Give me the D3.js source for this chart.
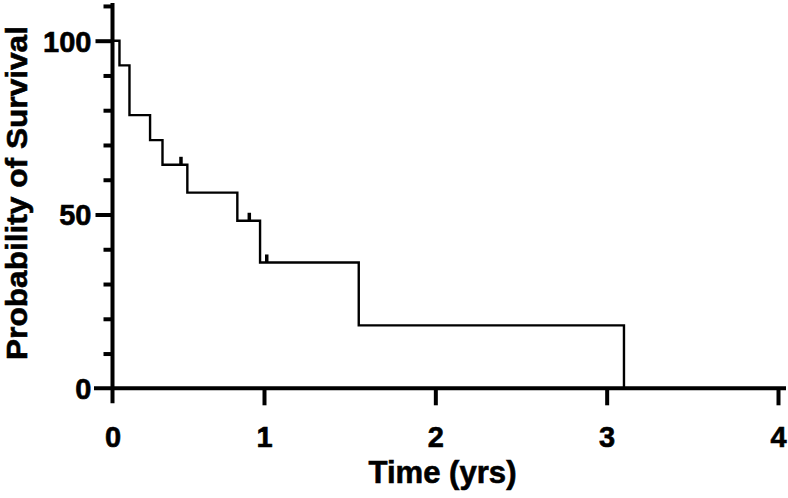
<!DOCTYPE html>
<html>
<head>
<meta charset="utf-8">
<script src="https://cdn.jsdelivr.net/npm/d3@7"></script>
<style>
  html, body { margin: 0; padding: 0; background: #fff; }
  svg { display: block; }
  text { font-family: "Liberation Sans", Arial, sans-serif; font-weight: bold; fill: #000; stroke: #000; stroke-width: 0.6px; }
</style>
</head>
<body>
<svg id="chart" width="788" height="498"></svg>
<script>
// ---- data ----
const times      = [0, 0.046, 0.112, 0.248, 0.330, 0.494, 0.824, 0.974, 1.553, 3.101];
const survival   = [100, 92.9, 78.6, 71.4, 64.3, 56.3, 48.2, 36.2, 18.1, 0];
const censorTimes = [0.452, 0.903, 1.016];
const censorSurv  = [64.3, 48.2, 36.2];
const xTicks = [0, 1, 2, 3, 4];
const yTicks = [0, 10, 20, 30, 40, 50, 60, 70, 80, 90, 100, 110];
const yLabelled = [0, 50, 100];
const xTitle = "Time (yrs)";
const yTitle = "Probability of Survival";

// ---- layout ----
const svg = d3.select("#chart");
const x = d3.scaleLinear().domain([0, 1, 4]).range([112.5, 264, 778]);
const y = d3.scaleLinear().domain([0, 100]).range([388.3, 40.7]);
const axisW = 4, majorLen = 17, minorLen = 9;

// survival curve
const pts = times.map((t, i) => [t, survival[i]]);
svg.append("path")
  .datum(pts)
  .attr("fill", "none")
  .attr("stroke", "#000")
  .attr("stroke-width", 2.4)
  .attr("d", d3.line().x(d => x(d[0])).y(d => y(d[1])).curve(d3.curveStepAfter));

// censor marks
svg.append("g").selectAll("line")
  .data(censorTimes.map((t, i) => [t, censorSurv[i]]))
  .join("line")
  .attr("x1", d => x(d[0])).attr("x2", d => x(d[0]))
  .attr("y1", d => y(d[1])).attr("y2", d => y(d[1]) - 8)
  .attr("stroke", "#000").attr("stroke-width", 3.5);

// y axis
const yAxis = svg.append("g").attr("transform", `translate(${x(0)},0)`)
  .call(d3.axisLeft(y).tickValues(yTicks).tickSizeOuter(0)
    .tickSize(minorLen).tickPadding(0)
    .tickFormat(d => yLabelled.includes(d) ? d : ""));
yAxis.select(".domain").remove();
yAxis.selectAll(".tick line")
  .attr("stroke-width", axisW)
  .attr("x2", d => yLabelled.includes(d) ? -majorLen : -minorLen);
yAxis.selectAll(".tick").filter(d => d === 0).select("line").remove();
yAxis.selectAll(".tick text")
  .attr("x", -21).attr("dy", "0.36em")
  .style("font-size", "29px");
yAxis.append("line")
  .attr("x1", 0).attr("x2", 0)
  .attr("y1", y(110) - 3).attr("y2", y(0) + 15)
  .attr("stroke", "#000").attr("stroke-width", axisW);

// x axis
const xAxis = svg.append("g").attr("transform", `translate(0,${y(0)})`)
  .call(d3.axisBottom(x).tickValues(xTicks).tickSize(majorLen).tickPadding(20)
    .tickFormat(d3.format("d")));
xAxis.select(".domain").remove();
xAxis.selectAll(".tick line").attr("stroke-width", axisW);
xAxis.selectAll(".tick").filter(d => d === 0).select("line").remove();
xAxis.selectAll(".tick text").attr("dy", null).attr("y", 59).style("font-size", "29px");
xAxis.append("line")
  .attr("x1", x(0) - 18.5).attr("x2", 786)
  .attr("y1", 0).attr("y2", 0)
  .attr("stroke", "#000").attr("stroke-width", axisW);

// titles
svg.append("text")
  .attr("x", 442.5).attr("y", 483)
  .attr("text-anchor", "middle")
  .attr("textLength", 148).attr("lengthAdjust", "spacingAndGlyphs")
  .style("font-size", "31px")
  .text(xTitle);
svg.append("text")
  .attr("transform", `translate(27,193) rotate(-90)`)
  .attr("text-anchor", "middle")
  .attr("textLength", 334).attr("lengthAdjust", "spacingAndGlyphs")
  .style("font-size", "29.5px")
  .text(yTitle);
</script>
</body>
</html>
